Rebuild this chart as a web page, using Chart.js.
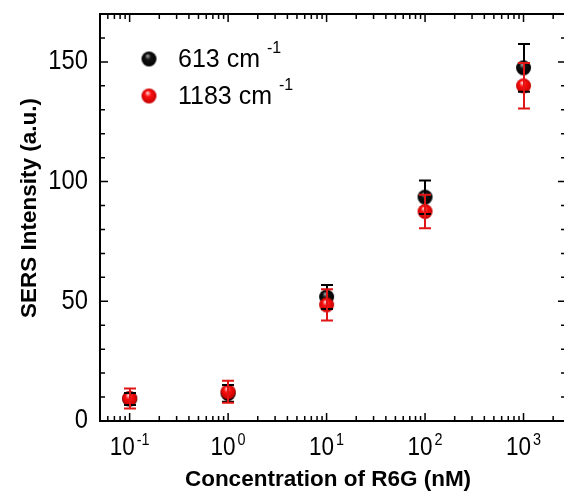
<!DOCTYPE html>
<html>
<head>
<meta charset="utf-8">
<script src="https://cdn.jsdelivr.net/npm/chart.js@4.4.1/dist/chart.umd.min.js"></script>
<style>
html, body { margin: 0; padding: 0; overflow: hidden; background: #fff; }
#wrap { width: 580px; height: 494px; }
</style>
</head>
<body>
<div id="wrap"><canvas id="chart"></canvas></div>
<script>
// Данные
const concentrations = [0.1, 1, 10, 100, 1000];
const intensity613 = [9.2, 11.5, 51.8, 93.5, 147.5];
const error613 = [2.5, 3.5, 5, 7, 10];
const intensity1183 = [9.4, 12.2, 48.5, 87.5, 140];
const error1183 = [4.2, 4.6, 6.5, 7, 9.5];

const seriesLabels = ['613 cm', '1183 cm'];
const xTickValues = [0.1, 1, 10, 100, 1000];
const xTickExponents = ['-1', '0', '1', '2', '3'];
const yTickValues = [0, 50, 100, 150];

const FONT = '"Liberation Sans", Arial, sans-serif';

// Шарики для точек
function makeSphere(r, light, base, dark) {
    const c = document.createElement('canvas');
    c.width = c.height = 2 * r + 2;
    const g = c.getContext('2d');
    const cx = r + 1, cy = r + 1;
    const grad = g.createRadialGradient(cx - r * 0.2, cy - r * 0.45, r * 0.05, cx, cy, r * 1.05);
    grad.addColorStop(0, light);
    grad.addColorStop(0.35, base);
    grad.addColorStop(1, dark);
    g.fillStyle = grad;
    g.beginPath();
    g.arc(cx, cy, r, 0, Math.PI * 2);
    g.fill();
    return c;
}

const blackBall = makeSphere(7.5, '#a0a0a0', '#111111', '#000000');
const redBall = makeSphere(7.5, '#ffd8d8', '#ff1010', '#c00000');

const toPoints = ys => concentrations.map((x, i) => ({ x: x, y: ys[i] }));

// текст со сжатием по горизонтали
function squeezedText(ctx, text, x, y, sx) {
    ctx.save();
    ctx.translate(x, y);
    ctx.scale(sx, 1);
    ctx.fillText(text, 0, 0);
    ctx.restore();
}

const errorBars = {
    id: 'errorBars',
    afterDatasetsDraw(chart) {
        const ctx = chart.ctx;
        const xs = chart.scales.x, ys = chart.scales.y;
        const sets = [
            { vals: intensity613, errs: error613, color: '#000000' },
            { vals: intensity1183, errs: error1183, color: '#e01515' }
        ];
        ctx.save();
        ctx.lineWidth = 2;
        sets.forEach(s => {
            ctx.strokeStyle = s.color;
            concentrations.forEach((c, i) => {
                const px = Math.round(xs.getPixelForValue(c));
                const top = ys.getPixelForValue(s.vals[i] + s.errs[i]);
                const bot = ys.getPixelForValue(s.vals[i] - s.errs[i]);
                ctx.beginPath();
                ctx.moveTo(px, top); ctx.lineTo(px, bot);
                ctx.moveTo(px - 6, top); ctx.lineTo(px + 6, top);
                ctx.moveTo(px - 6, bot); ctx.lineTo(px + 6, bot);
                ctx.stroke();
            });
        });
        ctx.restore();
    }
};

const frameAndLabels = {
    id: 'frameAndLabels',
    afterDraw(chart) {
        const ctx = chart.ctx;
        const a = chart.chartArea;
        const xs = chart.scales.x, ys = chart.scales.y;
        ctx.save();
        ctx.strokeStyle = '#000';
        ctx.fillStyle = '#000';

        // Рамка
        ctx.lineWidth = 2;
        ctx.strokeRect(a.left, a.top, a.right - a.left, a.bottom - a.top);

        // Засечки X
        ctx.lineWidth = 1.5;
        for (let e = -2; e <= 3; e++) {
            for (let m = 1; m <= 9; m++) {
                const v = m * Math.pow(10, e);
                if (v < xs.min || v > xs.max) continue;
                const px = xs.getPixelForValue(v);
                const len = m === 1 ? 8 : 5;
                ctx.beginPath();
                ctx.moveTo(px, a.bottom); ctx.lineTo(px, a.bottom - len);
                ctx.moveTo(px, a.top); ctx.lineTo(px, a.top + len);
                ctx.stroke();
            }
        }
        // Засечки Y
        for (let v = 0; v <= ys.max; v += 10) {
            const py = ys.getPixelForValue(v);
            const len = v % 50 === 0 ? 8 : 5;
            ctx.beginPath();
            ctx.moveTo(a.left, py); ctx.lineTo(a.left + len, py);
            ctx.moveTo(a.right, py); ctx.lineTo(a.right - len, py);
            ctx.stroke();
        }

        // Подписи Y
        ctx.font = '27px ' + FONT;
        ctx.textAlign = 'right';
        ctx.textBaseline = 'middle';
        yTickValues.forEach(v => {
            squeezedText(ctx, String(v), 88, ys.getPixelForValue(v), 0.88);
        });

        // Подписи X (10 со степенью)
        ctx.textAlign = 'left';
        ctx.textBaseline = 'alphabetic';
        xTickValues.forEach((v, i) => {
            const px = xs.getPixelForValue(v);
            ctx.font = '25px ' + FONT;
            const w1 = ctx.measureText('10').width * 0.9;
            ctx.font = '16px ' + FONT;
            const w2 = ctx.measureText(xTickExponents[i]).width * 0.9;
            const start = px - (w1 + 2 + w2) / 2;
            ctx.font = '25px ' + FONT;
            squeezedText(ctx, '10', start, 455, 0.9);
            ctx.font = '16px ' + FONT;
            squeezedText(ctx, xTickExponents[i], start + w1 + 2, 445, 0.9);
        });

        // Заголовки осей
        ctx.font = 'bold 22.5px ' + FONT;
        ctx.textAlign = 'center';
        ctx.fillText('Concentration of R6G (nM)', 328, 486);
        ctx.save();
        ctx.translate(36, 208);
        ctx.rotate(-Math.PI / 2);
        ctx.fillText('SERS Intensity (a.u.)', 0, 0);
        ctx.restore();

        // Легенда
        const legend = [
            { img: blackBall, y: 59, label: seriesLabels[0] },
            { img: redBall, y: 96, label: seriesLabels[1] }
        ];
        ctx.textAlign = 'left';
        legend.forEach(l => {
            ctx.drawImage(l.img, 149 - l.img.width / 2, l.y - l.img.height / 2);
            ctx.font = '25px ' + FONT;
            ctx.fillText(l.label, 178, l.y + 8);
            const w = ctx.measureText(l.label).width;
            ctx.font = '16px ' + FONT;
            ctx.fillText('-1', 178 + w + 7, l.y - 6);
        });
        ctx.restore();
    }
};

new Chart(document.getElementById('chart'), {
    type: 'scatter',
    data: {
        datasets: [
            {
                label: seriesLabels[0],
                data: toPoints(intensity613),
                pointStyle: blackBall,
                pointRadius: 7,
                order: 2
            },
            {
                label: seriesLabels[1],
                data: toPoints(intensity1183),
                pointStyle: redBall,
                pointRadius: 7,
                order: 1
            }
        ]
    },
    options: {
        responsive: true,
        maintainAspectRatio: false,
        animation: false,
        layout: { padding: { left: 100, top: 14, right: 14, bottom: 73 } },
        plugins: {
            legend: { display: false },
            tooltip: { enabled: false }
        },
        scales: {
            x: { type: 'logarithmic', min: 0.05, max: 2700, display: false },
            y: { type: 'linear', min: 0, max: 170, display: false }
        }
    },
    plugins: [errorBars, frameAndLabels]
});
</script>
</body>
</html>
